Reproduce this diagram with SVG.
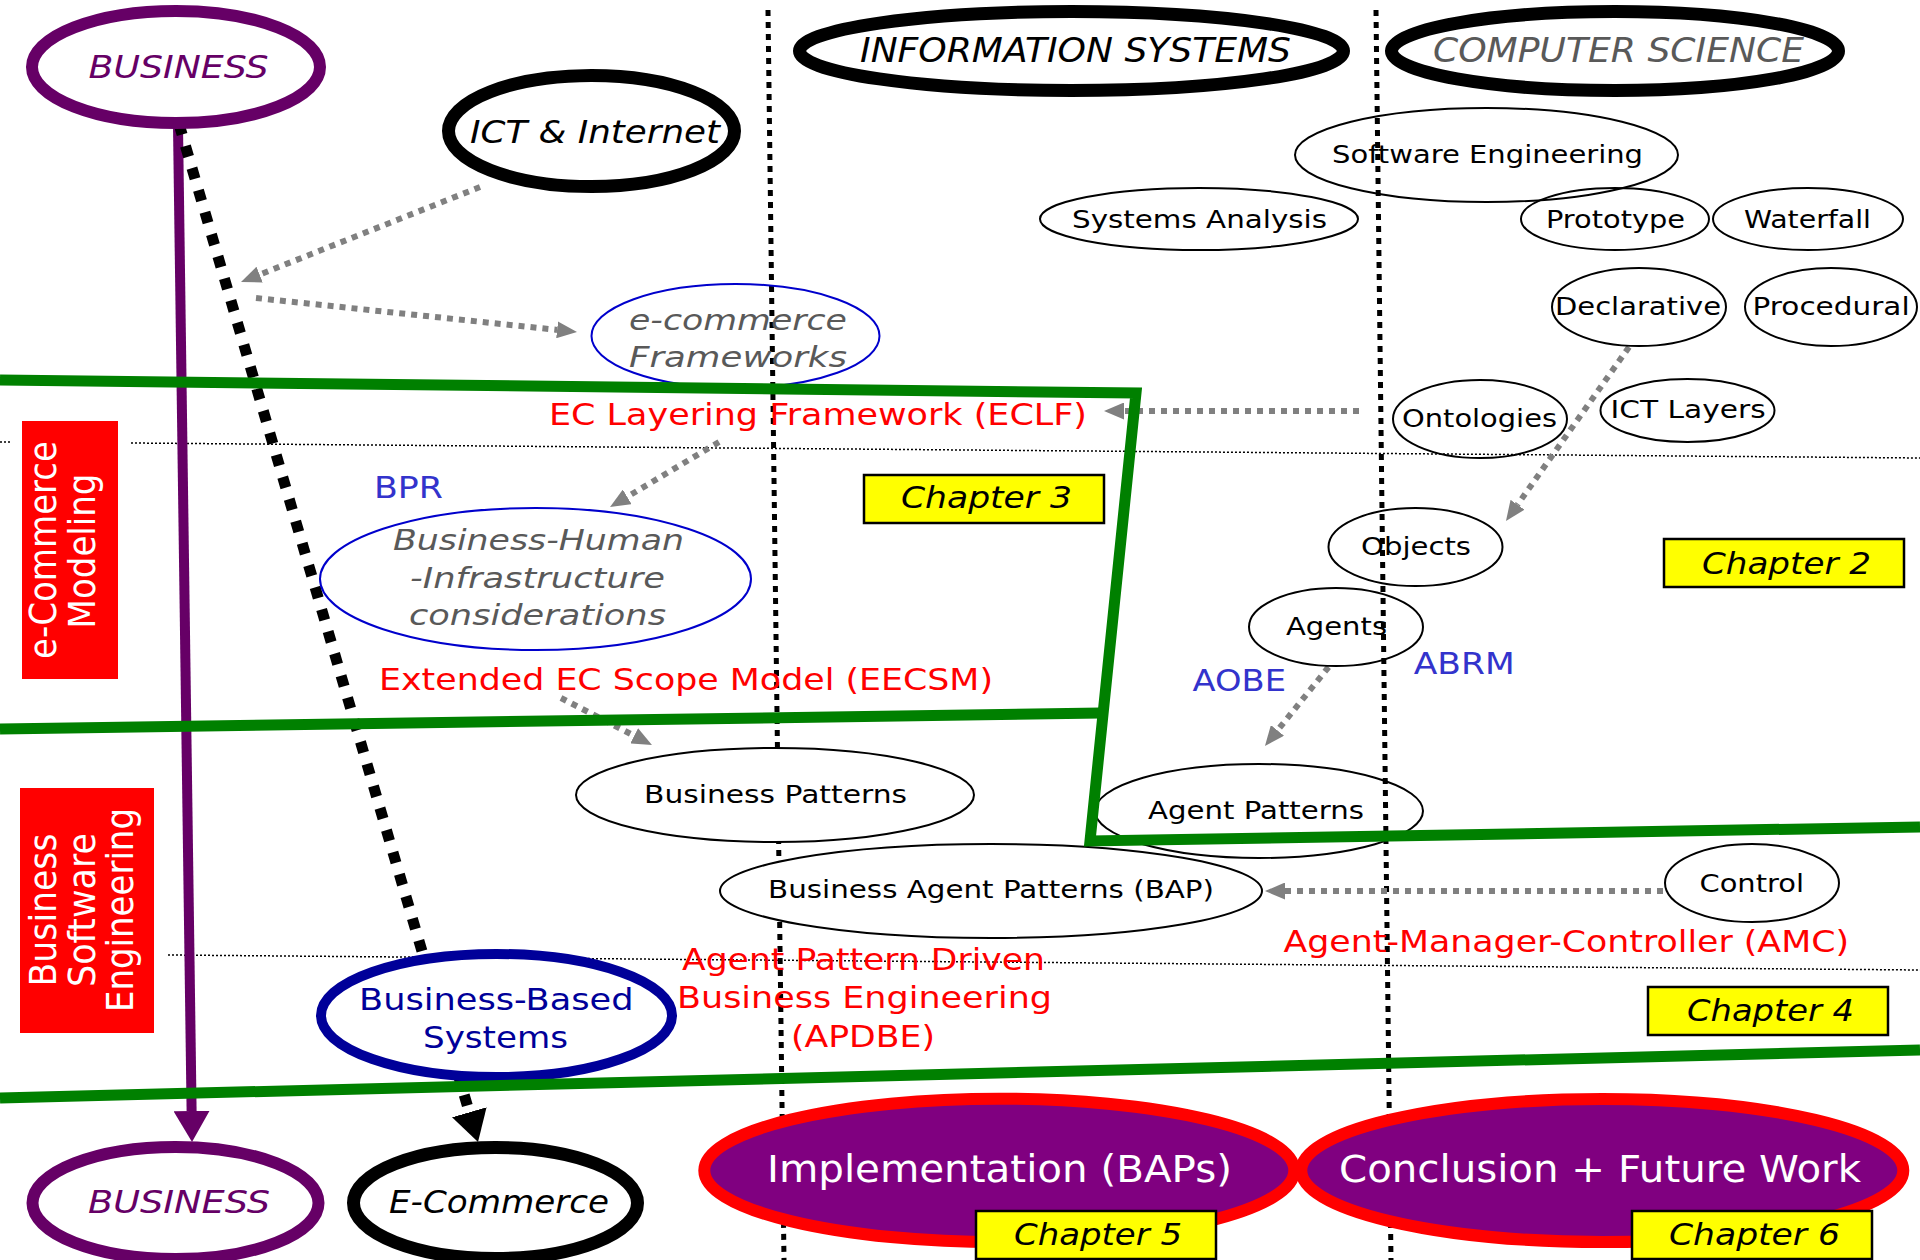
<svg xmlns="http://www.w3.org/2000/svg" width="1920" height="1260" viewBox="0 0 1920 1260">
<defs>
<style>
text{font-family:"DejaVu Sans","Liberation Sans",sans-serif;}
.it{font-style:italic;}
.lbl{font-size:25px;fill:#000;}
.red{font-size:30px;fill:#ff0000;}
.blu{font-size:30px;fill:#3333cc;}
.chap{font-size:30px;font-style:italic;fill:#000;}
.thin{fill:none;stroke:#000;stroke-width:2;}
.thinw{fill:#fff;stroke:#000;stroke-width:2;}
.bthin{fill:none;stroke:#0000cc;stroke-width:2;}
.chbox{fill:#ffff00;stroke:#000;stroke-width:2.5;}
.vdot{fill:none;stroke:#000;stroke-width:5;stroke-dasharray:6 6;}
.hdot{fill:none;stroke:#000;stroke-width:1.5;stroke-dasharray:2 2;}
.gray{fill:none;stroke:#808080;stroke-width:6;stroke-dasharray:6 6;marker-end:url(#ga);}
.green{fill:none;stroke:#008000;stroke-width:11;}
.big{fill:#800080;stroke:#ff0000;stroke-width:12;}
.box{fill:#ff0000;}
.wt{fill:#fff;font-size:34px;}
</style>
<marker id="ga" markerUnits="userSpaceOnUse" markerWidth="20" markerHeight="17" refX="0" refY="8.5" orient="auto"><path d="M0,0 L20,8.5 L0,17 z" fill="#808080"/></marker>
<marker id="pa" markerUnits="userSpaceOnUse" markerWidth="31" markerHeight="36" refX="0" refY="18" orient="auto"><path d="M0,0 L31,18 L0,36 z" fill="#660066"/></marker>
<marker id="ba" markerUnits="userSpaceOnUse" markerWidth="31" markerHeight="36" refX="0" refY="18" orient="auto"><path d="M0,0 L31,18 L0,36 z" fill="#000"/></marker>
</defs>
<rect x="0" y="0" width="1920" height="1260" fill="#fff"/>

<g id="dividers">
<line class="hdot" x1="0" y1="442" x2="10" y2="442"/>
<line class="hdot" x1="131" y1="443" x2="1920" y2="458"/>
<line class="hdot" x1="168" y1="955" x2="1920" y2="970"/>
<line class="vdot" x1="768" y1="10" x2="784" y2="1260"/>
<line class="vdot" x1="1376" y1="10" x2="1391" y2="1260"/>
</g>

<g id="connectors">
<line x1="178" y1="126" x2="191.6" y2="1111" stroke="#660066" stroke-width="10" marker-end="url(#pa)"/>
<line x1="179" y1="124" x2="469.3" y2="1112.3" stroke="#000" stroke-width="11" stroke-dasharray="11 12" marker-end="url(#ba)"/>
<line class="gray" x1="480" y1="187" x2="259.6" y2="274.6"/>
<line class="gray" x1="256" y1="298" x2="557.1" y2="329.9"/>
<line class="gray" x1="1359" y1="411" x2="1124" y2="411"/>
<line class="gray" x1="719" y1="442" x2="627.2" y2="496.8"/>
<line class="gray" x1="561" y1="698" x2="634.2" y2="735.8"/>
<line class="gray" x1="1629" y1="347" x2="1517.5" y2="504.7"/>
<line class="gray" x1="1328.6" y1="667" x2="1277.5" y2="730.4"/>
<line class="gray" x1="1663" y1="891" x2="1285" y2="891"/>
</g>

<g id="business-top"><ellipse cx="176" cy="67" rx="144" ry="56" fill="#fff" stroke="#660066" stroke-width="12"/><text class="it" x="88.5" y="78" font-size="32" fill="#660066" textLength="180" lengthAdjust="spacingAndGlyphs">BUSINESS</text></g>
<g id="ict-internet"><ellipse cx="591.5" cy="131" rx="143" ry="55.5" fill="#fff" stroke="#000" stroke-width="13"/><text class="it" x="470" y="143" font-size="32" textLength="250" lengthAdjust="spacingAndGlyphs">ICT &amp; Internet</text></g>
<g id="information-systems"><ellipse cx="1071.5" cy="51" rx="272" ry="39.5" fill="#fff" stroke="#000" stroke-width="13"/><text class="it" x="860" y="62" font-size="33" textLength="431" lengthAdjust="spacingAndGlyphs">INFORMATION SYSTEMS</text></g>
<g id="computer-science"><ellipse cx="1615" cy="51" rx="223.5" ry="39.5" fill="#fff" stroke="#000" stroke-width="13"/><text class="it" x="1433" y="62" font-size="33" fill="#595959" textLength="371" lengthAdjust="spacingAndGlyphs">COMPUTER SCIENCE</text></g>

<g id="software-engineering"><ellipse class="thin" cx="1486.5" cy="155" rx="191.5" ry="47"/><text class="lbl" x="1332" y="163" textLength="311" lengthAdjust="spacingAndGlyphs">Software Engineering</text></g>
<g id="systems-analysis"><ellipse class="thin" cx="1199" cy="219" rx="159" ry="31"/><text class="lbl" x="1072" y="228" textLength="255" lengthAdjust="spacingAndGlyphs">Systems Analysis</text></g>
<g id="prototype"><ellipse class="thin" cx="1615" cy="219" rx="94" ry="31"/><text class="lbl" x="1546" y="228" textLength="139" lengthAdjust="spacingAndGlyphs">Prototype</text></g>
<g id="waterfall"><ellipse class="thin" cx="1808" cy="219" rx="95" ry="31"/><text class="lbl" x="1744" y="228" textLength="127" lengthAdjust="spacingAndGlyphs">Waterfall</text></g>
<g id="declarative"><ellipse class="thin" cx="1639" cy="307" rx="87" ry="39"/><text class="lbl" x="1555" y="315" textLength="166" lengthAdjust="spacingAndGlyphs">Declarative</text></g>
<g id="procedural"><ellipse class="thin" cx="1831" cy="307" rx="86" ry="39"/><text class="lbl" x="1752.6" y="315" textLength="157" lengthAdjust="spacingAndGlyphs">Procedural</text></g>
<g id="ontologies"><ellipse class="thin" cx="1480" cy="419" rx="87" ry="39"/><text class="lbl" x="1402" y="427" textLength="155" lengthAdjust="spacingAndGlyphs">Ontologies</text></g>
<g id="ict-layers"><ellipse class="thin" cx="1687.5" cy="410.5" rx="87" ry="31.5"/><text class="lbl" x="1610.6" y="418" textLength="155" lengthAdjust="spacingAndGlyphs">ICT Layers</text></g>
<g id="objects"><ellipse class="thin" cx="1415.5" cy="547" rx="87" ry="39"/><text class="lbl" x="1361" y="555" textLength="110" lengthAdjust="spacingAndGlyphs">Objects</text></g>
<g id="agents"><ellipse class="thin" cx="1336" cy="627" rx="87" ry="39"/><text class="lbl" x="1286" y="635" textLength="101" lengthAdjust="spacingAndGlyphs">Agents</text></g>
<g id="agent-patterns"><ellipse class="thin" cx="1259" cy="811" rx="164" ry="47"/><text class="lbl" x="1148" y="819" textLength="216" lengthAdjust="spacingAndGlyphs">Agent Patterns</text></g>
<g id="control"><ellipse class="thin" cx="1752" cy="883" rx="87" ry="39"/><text class="lbl" x="1699.5" y="891.6" textLength="104.5" lengthAdjust="spacingAndGlyphs">Control</text></g>
<g id="business-patterns"><ellipse class="thinw" cx="775" cy="795" rx="199" ry="47"/><text class="lbl" x="644" y="803" textLength="263" lengthAdjust="spacingAndGlyphs">Business Patterns</text></g>
<g id="bap"><ellipse class="thinw" cx="991" cy="891" rx="271" ry="47"/><text class="lbl" x="768" y="898" textLength="446" lengthAdjust="spacingAndGlyphs">Business Agent Patterns (BAP)</text></g>

<g id="ecommerce-frameworks"><ellipse class="bthin" cx="735.5" cy="336" rx="144" ry="52"/><text class="it" x="629" y="330" font-size="27.5" fill="#595959" textLength="218" lengthAdjust="spacingAndGlyphs">e-commerce</text><text class="it" x="629" y="367" font-size="27.5" fill="#595959" textLength="218" lengthAdjust="spacingAndGlyphs">Frameworks</text></g>
<g id="business-human"><ellipse class="bthin" cx="535.5" cy="579" rx="215.5" ry="71"/><text class="it" x="393" y="550" font-size="27.5" fill="#595959" textLength="291" lengthAdjust="spacingAndGlyphs">Business-Human</text><text class="it" x="410" y="588" font-size="27.5" fill="#595959" textLength="255" lengthAdjust="spacingAndGlyphs">-Infrastructure</text><text class="it" x="409" y="625" font-size="27.5" fill="#595959" textLength="257" lengthAdjust="spacingAndGlyphs">considerations</text></g>
<g id="business-based-systems"><ellipse cx="496.5" cy="1015.5" rx="175.5" ry="61.5" fill="#fff" stroke="#000099" stroke-width="10"/><text x="359" y="1010" font-size="30" fill="#000099" textLength="274.5" lengthAdjust="spacingAndGlyphs">Business-Based</text><text x="423" y="1048" font-size="30" fill="#000099" textLength="145" lengthAdjust="spacingAndGlyphs">Systems</text></g>
<g id="business-bottom"><ellipse cx="175.5" cy="1203" rx="143" ry="56" fill="#fff" stroke="#660066" stroke-width="12"/><text class="it" x="88" y="1213" font-size="32" fill="#660066" textLength="182" lengthAdjust="spacingAndGlyphs">BUSINESS</text></g>
<g id="e-commerce"><ellipse cx="495.5" cy="1203" rx="142" ry="55.5" fill="#fff" stroke="#000" stroke-width="13"/><text class="it" x="389" y="1213" font-size="32" textLength="220" lengthAdjust="spacingAndGlyphs">E-Commerce</text></g>
<g id="implementation"><ellipse class="big" cx="999.3" cy="1170.4" rx="295" ry="71.7"/><text x="767" y="1182" font-size="37" fill="#fff" textLength="465" lengthAdjust="spacingAndGlyphs">Implementation (BAPs)</text></g>
<g id="conclusion"><ellipse class="big" cx="1602.3" cy="1170.5" rx="301" ry="71.5"/><text x="1339" y="1182" font-size="37" fill="#fff" textLength="522" lengthAdjust="spacingAndGlyphs">Conclusion + Future Work</text></g>

<g id="labels">
<text class="red" x="549" y="425" textLength="538" lengthAdjust="spacingAndGlyphs">EC Layering Framework (ECLF)</text>
<text class="blu" x="374" y="498" textLength="69" lengthAdjust="spacingAndGlyphs">BPR</text>
<text class="red" x="379" y="690" textLength="614" lengthAdjust="spacingAndGlyphs">Extended EC Scope Model (EECSM)</text>
<text class="blu" x="1413.7" y="674" textLength="101" lengthAdjust="spacingAndGlyphs">ABRM</text>
<text class="blu" x="1192.5" y="690.7" textLength="93.5" lengthAdjust="spacingAndGlyphs">AOBE</text>
<text class="red" x="1283.5" y="952" textLength="565.5" lengthAdjust="spacingAndGlyphs">Agent-Manager-Controller (AMC)</text>
<text class="red" x="682" y="970" textLength="363" lengthAdjust="spacingAndGlyphs">Agent Pattern Driven</text>
<text class="red" x="677" y="1008" textLength="375" lengthAdjust="spacingAndGlyphs">Business Engineering</text>
<text class="red" x="791" y="1047" textLength="144" lengthAdjust="spacingAndGlyphs">(APDBE)</text>
</g>

<g id="layers">
<polyline class="green" points="0,380 1136,393 1090,841 1920,827"/>
<line class="green" x1="0" y1="729" x2="1101" y2="713"/>
<line class="green" x1="0" y1="1098" x2="1920" y2="1050"/>
</g>

<g id="ecommerce-modeling"><rect class="box" x="22" y="421" width="96" height="258"/>
<text class="wt" transform="translate(56,550) scale(1.1,1) rotate(-90)" x="-109" y="0" textLength="218" lengthAdjust="spacingAndGlyphs">e-Commerce</text>
<text class="wt" transform="translate(95,551) scale(1.1,1) rotate(-90)" x="-77.5" y="0" textLength="155" lengthAdjust="spacingAndGlyphs">Modeling</text></g>
<g id="business-software-engineering"><rect class="box" x="20" y="788" width="134" height="245"/>
<text class="wt" transform="translate(56,910) scale(1.1,1) rotate(-90)" x="-76.5" y="0" textLength="153" lengthAdjust="spacingAndGlyphs">Business</text>
<text class="wt" transform="translate(95,910) scale(1.1,1) rotate(-90)" x="-77" y="0" textLength="154" lengthAdjust="spacingAndGlyphs">Software</text>
<text class="wt" transform="translate(133,910) scale(1.1,1) rotate(-90)" x="-102" y="0" textLength="204" lengthAdjust="spacingAndGlyphs">Engineering</text></g>

<g id="chapter-2"><rect class="chbox" x="1664" y="539" width="240" height="48"/><text class="chap" x="1702" y="574" textLength="169" lengthAdjust="spacingAndGlyphs">Chapter 2</text></g>
<g id="chapter-3"><rect class="chbox" x="864" y="475" width="240" height="48"/><text class="chap" x="901" y="508" textLength="171" lengthAdjust="spacingAndGlyphs">Chapter 3</text></g>
<g id="chapter-4"><rect class="chbox" x="1648" y="987" width="240" height="48"/><text class="chap" x="1687" y="1021" textLength="167" lengthAdjust="spacingAndGlyphs">Chapter 4</text></g>
<g id="chapter-5"><rect class="chbox" x="976" y="1211" width="240" height="48"/><text class="chap" x="1014" y="1245" textLength="168" lengthAdjust="spacingAndGlyphs">Chapter 5</text></g>
<g id="chapter-6"><rect class="chbox" x="1632" y="1211" width="240" height="48"/><text class="chap" x="1669" y="1245" textLength="171" lengthAdjust="spacingAndGlyphs">Chapter 6</text></g>
</svg>
